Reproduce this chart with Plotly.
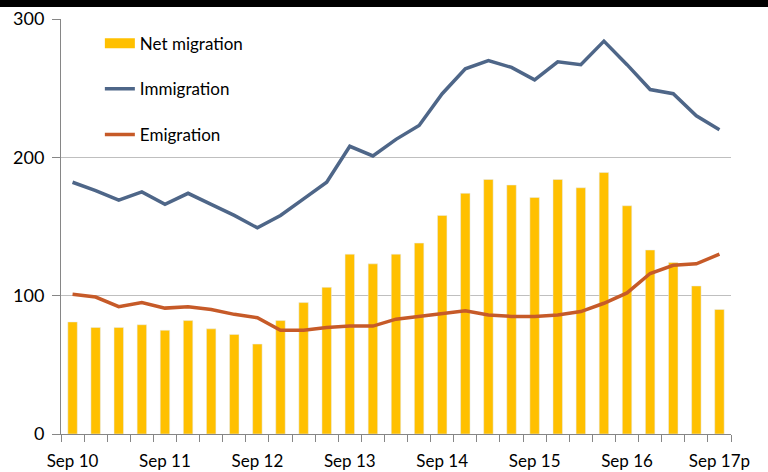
import plotly.graph_objects as go

quarters = []
for yr in range(10, 18):
    for m in ["Mar", "Jun", "Sep", "Dec"]:
        quarters.append(f"{m} {yr}")
start = quarters.index("Sep 10")
end = quarters.index("Sep 17")
categories = quarters[start:end + 1]
categories[-1] = "Sep 17p"

net_migration = [81, 77, 77, 79, 75, 82, 76, 72, 65, 82, 95, 106, 130, 123, 130, 138,
                 158, 174, 184, 180, 171, 184, 178, 189, 165, 133, 124, 107, 90]
immigration = [182, 176, 169, 175, 166, 174, 166, 158, 149, 158, 170, 182, 208, 201, 213, 223,
               246, 264, 270, 265, 256, 269, 267, 284, 267, 249, 246, 230, 220]
emigration = [101, 99, 92, 95, 91, 92, 90, 86.5, 84, 75, 75, 77, 78, 78, 83, 85,
              87, 89, 86, 85, 85, 86, 88.5, 94.5, 102, 116, 122, 123, 130]

tick_text = [c if c.startswith("Sep") else "" for c in categories]

FONT = "Lato"
NET_COLOR = "#FFC000"
fig = go.Figure()
fig.add_trace(go.Bar(x=categories, y=net_migration, name="Net migration",
                     marker_color=NET_COLOR, showlegend=False))
# legend swatch for the bars (wide rectangle like the original)
fig.add_trace(go.Scatter(x=[None], y=[None], name="Net migration", mode="lines",
                         line=dict(color=NET_COLOR, width=12), legendgroup="a"))
fig.add_trace(go.Scatter(x=categories, y=immigration, name="Immigration", mode="lines",
                         line=dict(color="#4E6688", width=3.5), legendgroup="b"))
fig.add_trace(go.Scatter(x=categories, y=emigration, name="Emigration", mode="lines",
                         line=dict(color="#C65A28", width=3.5), legendgroup="c"))

fig.update_layout(
    width=768, height=472,
    margin=dict(l=61, r=37, t=19, b=38),
    plot_bgcolor="white", paper_bgcolor="white",
    bargap=0.59,
    font=dict(family=FONT, size=17, color="black"),
    showlegend=True,
    legend=dict(x=0.058, y=0.984, xanchor="left", yanchor="top",
                bgcolor="rgba(0,0,0,0)", tracegroupgap=20.5,
                font=dict(family=FONT, size=17, color="black")),
    xaxis=dict(type="category", tickmode="array", tickvals=categories, ticktext=tick_text,
               tickson="boundaries", ticks="outside", ticklen=7, tickcolor="#868686",
               showline=True, linecolor="#868686", linewidth=1, showgrid=False,
               tickangle=0, tickfont=dict(size=17), ticklabelstandoff=12,
               automargin=False),
    yaxis=dict(range=[0, 300], tickvals=[0, 100, 200, 300], ticks="outside", ticklen=8,
               tickcolor="#868686", showline=True, linecolor="#868686", linewidth=1,
               showgrid=True, gridcolor="#BFBFBF", gridwidth=1, zeroline=False,
               tickfont=dict(size=18), ticklabelstandoff=4, automargin=False),
    shapes=[dict(type="rect", xref="paper", yref="paper",
                 x0=-61 / 670, x1=1 + 37 / 670, y0=1 + 12 / 415, y1=1 + 25 / 415,
                 fillcolor="black", line=dict(width=0), layer="above")],
)
fig.write_html("out.html", config={"displayModeBar": False},
               post_script="document.body.style.margin='0';document.body.style.overflow='hidden';")
